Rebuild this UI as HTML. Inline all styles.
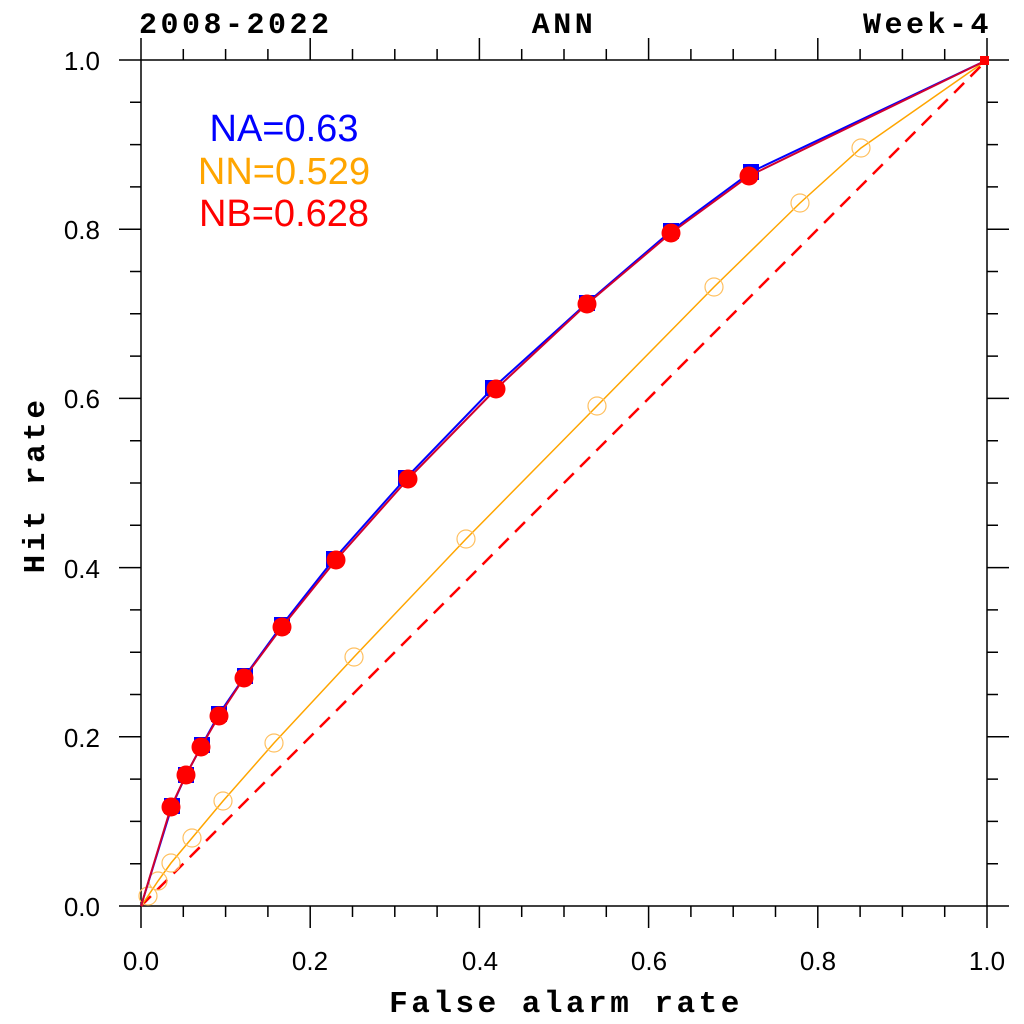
<!DOCTYPE html>
<html><head><style>body{margin:0;background:#fff}svg{display:block}</style></head><body>
<svg width="1024" height="1024" xmlns="http://www.w3.org/2000/svg">
<path stroke="#000" stroke-width="1.5" fill="none" d="
M141,906V928 M183.3,906V917 M225.6,906V917 M267.9,906V917 M310.2,906V928 M352.5,906V917 M394.8,906V917 M437.1,906V917 M479.4,906V928 M521.7,906V917 M564,906V917 M606.3,906V917 M648.6,906V928 M690.9,906V917 M733.2,906V917 M775.5,906V917 M817.8,906V928 M860.1,906V917 M902.4,906V917 M944.7,906V917 M987,906V928
M141,60V38 M183.3,60V49 M225.6,60V49 M267.9,60V49 M310.2,60V38 M352.5,60V49 M394.8,60V49 M437.1,60V49 M479.4,60V38 M521.7,60V49 M564,60V49 M606.3,60V49 M648.6,60V38 M690.9,60V49 M733.2,60V49 M775.5,60V49 M817.8,60V38 M860.1,60V49 M902.4,60V49 M944.7,60V49 M987,60V38
M141,906H119 M141,863.7H130 M141,821.4H130 M141,779.1H130 M141,736.8H119 M141,694.5H130 M141,652.2H130 M141,609.9H130 M141,567.6H119 M141,525.3H130 M141,483H130 M141,440.7H130 M141,398.4H119 M141,356.1H130 M141,313.8H130 M141,271.5H130 M141,229.2H119 M141,186.9H130 M141,144.6H130 M141,102.3H130 M141,60H119
M987,906H1009 M987,863.7H998 M987,821.4H998 M987,779.1H998 M987,736.8H1009 M987,694.5H998 M987,652.2H998 M987,609.9H998 M987,567.6H1009 M987,525.3H998 M987,483H998 M987,440.7H998 M987,398.4H1009 M987,356.1H998 M987,313.8H998 M987,271.5H998 M987,229.2H1009 M987,186.9H998 M987,144.6H998 M987,102.3H998 M987,60H1009"/>
<rect x="141" y="60" width="846" height="846" fill="none" stroke="#000" stroke-width="1.5"/>
<g font-family="Liberation Sans, sans-serif" font-size="26" fill="#000">
<g text-anchor="middle">
<text x="141" y="970">0.0</text><text x="310" y="970">0.2</text><text x="480" y="970">0.4</text><text x="649" y="970">0.6</text><text x="818" y="970">0.8</text><text x="987" y="970">1.0</text>
</g>
<g text-anchor="end">
<text x="100" y="916">0.0</text><text x="100" y="747">0.2</text><text x="100" y="578">0.4</text><text x="100" y="408">0.6</text><text x="100" y="239">0.8</text><text x="100" y="70">1.0</text>
</g></g>
<g font-family="Liberation Mono, monospace" font-weight="bold" font-size="30" fill="#000">
<text x="139" y="33" letter-spacing="3.5">2008-2022</text>
<text x="564" y="33" text-anchor="middle" letter-spacing="3.5">ANN</text>
<text x="992" y="33" text-anchor="end" letter-spacing="3.5">Week-4</text>
<text x="566" y="1012" text-anchor="middle" font-size="31" letter-spacing="3.5">False alarm rate</text>
<text transform="translate(44,485) rotate(-90)" text-anchor="middle" font-size="31" letter-spacing="3.5">Hit rate</text>
</g>
<line x1="141" y1="906" x2="987" y2="60" stroke="#f00" stroke-width="2.5" stroke-dasharray="14,9"/>
<polyline fill="none" stroke="orange" stroke-width="1.5" points="141,906 148,896 158,881 171,863 192,838 223,801 274,743 354,657 466,539 597,406 714,287 800,203 861,148 987,60"/>
<g fill="none" stroke="#ffc060" stroke-width="1.2">
<circle cx="148" cy="896" r="9"/><circle cx="158" cy="881" r="9"/><circle cx="171" cy="863" r="9"/><circle cx="192" cy="838" r="9"/><circle cx="223" cy="801" r="9"/><circle cx="274" cy="743" r="9"/><circle cx="354" cy="657" r="9"/><circle cx="466" cy="539" r="9"/><circle cx="597" cy="406" r="9"/><circle cx="714" cy="287" r="9"/><circle cx="800" cy="203" r="9"/><circle cx="861" cy="148" r="9"/>
</g>
<polyline fill="none" stroke="#00f" stroke-width="2" points="141,906 172,806 186,775 202,745 219,714 245,676 282,625 334,559 406,478 493,388 587,303 671,231 751,172 987,60"/>
<g fill="#00f">
<rect x="164" y="798" width="16" height="16"/><rect x="178" y="767" width="16" height="16"/><rect x="194" y="737" width="16" height="16"/><rect x="211" y="706" width="16" height="16"/><rect x="237" y="668" width="16" height="16"/><rect x="274" y="617" width="16" height="16"/><rect x="326" y="551" width="16" height="16"/><rect x="398" y="470" width="16" height="16"/><rect x="485" y="380" width="16" height="16"/><rect x="579" y="295" width="16" height="16"/><rect x="663" y="223" width="16" height="16"/><rect x="743" y="164" width="16" height="16"/>
</g>
<polyline fill="none" stroke="#d00030" stroke-width="2" points="141,906 171,807 186,775 201,747 219,716 244,678 282,627 336,560 408,479 496,389 587,304 671,233 749,176 987,60"/>
<g fill="#f00">
<circle cx="171" cy="807" r="9.5"/><circle cx="186" cy="775" r="9.5"/><circle cx="201" cy="747" r="9.5"/><circle cx="219" cy="716" r="9.5"/><circle cx="244" cy="678" r="9.5"/><circle cx="282" cy="627" r="9.5"/><circle cx="336" cy="560" r="9.5"/><circle cx="408" cy="479" r="9.5"/><circle cx="496" cy="389" r="9.5"/><circle cx="587" cy="304" r="9.5"/><circle cx="671" cy="233" r="9.5"/><circle cx="749" cy="176" r="9.5"/><rect x="980" y="56" width="9" height="9"/>
</g>
<g font-family="Liberation Sans, sans-serif" font-size="38" text-anchor="middle">
<text x="284" y="141" fill="#00f">NA=0.63</text>
<text x="284" y="184" fill="orange">NN=0.529</text>
<text x="284" y="226" fill="#f00">NB=0.628</text>
</g>
</svg>
</body></html>
